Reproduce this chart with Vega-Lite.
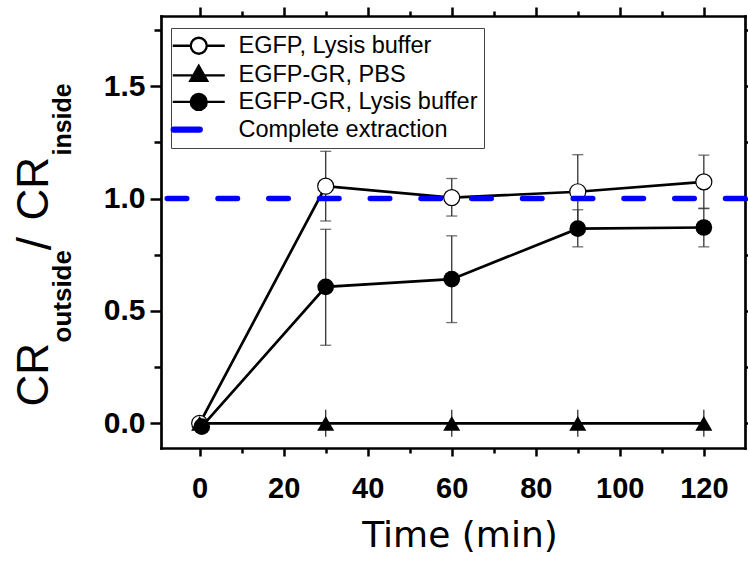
{
  "$schema": "https://vega.github.io/schema/vega-lite/v6.json",
  "autosize": "none",
  "padding": {"left": 161, "top": 16, "right": 3, "bottom": 115},
  "width": 584,
  "height": 432,
  "background": "white",
  "config": {
    "font": "Liberation Sans",
    "view": {"stroke": null},
    "axis": {"grid": false, "tickColor": "black", "domainColor": "black", "labelColor": "black", "titleColor": "black", "tickWidth": 2.5, "domainWidth": 2.7, "domainCap": "square", "labelFlush": false, "labelOverlap": false}
  },
  "datasets": {
    "main": [
      {"series": "EGFP, Lysis buffer", "time": 0, "mean": 0, "lo": 0, "hi": 0},
      {"series": "EGFP, Lysis buffer", "time": 30, "mean": 1.055, "lo": 0.9, "hi": 1.21},
      {"series": "EGFP, Lysis buffer", "time": 60, "mean": 1.004, "lo": 0.922, "hi": 1.089},
      {"series": "EGFP, Lysis buffer", "time": 90, "mean": 1.03, "lo": 0.865, "hi": 1.195},
      {"series": "EGFP, Lysis buffer", "time": 120, "mean": 1.074, "lo": 0.955, "hi": 1.193},
      {"series": "EGFP-GR, PBS", "time": 0, "mean": 0, "lo": 0, "hi": 0},
      {"series": "EGFP-GR, PBS", "time": 30, "mean": 0, "lo": -0.06, "hi": 0.06},
      {"series": "EGFP-GR, PBS", "time": 60, "mean": 0, "lo": -0.06, "hi": 0.06},
      {"series": "EGFP-GR, PBS", "time": 90, "mean": 0, "lo": -0.06, "hi": 0.06},
      {"series": "EGFP-GR, PBS", "time": 120, "mean": 0, "lo": -0.06, "hi": 0.06},
      {"series": "EGFP-GR, Lysis buffer", "time": 0.5, "mean": -0.015, "lo": -0.015, "hi": -0.015},
      {"series": "EGFP-GR, Lysis buffer", "time": 30, "mean": 0.607, "lo": 0.347, "hi": 0.863},
      {"series": "EGFP-GR, Lysis buffer", "time": 60, "mean": 0.641, "lo": 0.448, "hi": 0.834},
      {"series": "EGFP-GR, Lysis buffer", "time": 90, "mean": 0.866, "lo": 0.785, "hi": 0.95},
      {"series": "EGFP-GR, Lysis buffer", "time": 120, "mean": 0.871, "lo": 0.785, "hi": 0.957}
    ],
    "legend": [
      {"series": "EGFP, Lysis buffer"},
      {"series": "EGFP-GR, PBS"},
      {"series": "EGFP-GR, Lysis buffer"},
      {"series": "Complete extraction"}
    ],
    "ref": [
      {"level": 1}
    ]
  },
  "layer": [
    {
      "data": {"name": "main"},
      "mark": {"type": "rule", "color": "#333333", "strokeWidth": 1.3},
      "encoding": {
        "x": {"field": "time", "type": "quantitative", "scale": {"domain": [-9.2, 129.8], "nice": false, "zero": false},
          "axis": {"orient": "bottom", "values": [0, 20, 40, 60, 80, 100, 120], "tickSize": 8, "labelFont": "Liberation Sans", "labelFontWeight": "bold", "labelFontSize": 29, "labelPadding": 18,
            "title": "Time (min)", "titleFont": "DejaVu Sans", "titleFontSize": 36, "titleFontWeight": "normal", "titleX": 298.5, "titleY": 98, "titleBaseline": "alphabetic", "titleAlign": "center", "titleAngle": 0}},
        "y": {"field": "lo", "type": "quantitative", "scale": {"domain": [-0.11, 1.812], "nice": false, "zero": false},
          "axis": {"orient": "left", "values": [0, 0.5, 1, 1.5], "format": ".1f", "tickSize": 11, "labelFont": "Liberation Sans", "labelFontWeight": "bold", "labelFontSize": 30, "labelPadding": 5,
            "title": "CR", "titleFont": "Liberation Sans", "titleFontSize": 44, "titleFontWeight": "normal", "titleAngle": 270, "titleAlign": "left", "titleBaseline": "alphabetic", "titleX": -114, "titleY": 390}},
        "y2": {"field": "hi"}
      }
    },
    {
      "data": {"name": "main"},
      "transform": [{"filter": "datum.series != 'EGFP-GR, PBS'"}],
      "mark": {"type": "tick", "orient": "horizontal", "color": "#333333", "size": 11, "thickness": 1.3},
      "encoding": {
        "x": {"field": "time", "type": "quantitative", "scale": {"domain": [-9.2, 129.8], "nice": false, "zero": false},
          "axis": {"orient": "bottom", "values": [10, 30, 50, 70, 90, 110], "tickSize": 5, "labels": false, "domain": false, "title": null}},
        "y": {"field": "lo", "type": "quantitative", "scale": {"domain": [-0.11, 1.812], "nice": false, "zero": false},
          "axis": {"orient": "left", "values": [0.25, 0.75, 1.25, 1.75], "tickSize": 7, "labels": false, "domain": false,
            "title": "outside", "titleFont": "Liberation Sans", "titleFontSize": 26, "titleFontWeight": "bold", "titleAngle": 270, "titleAlign": "left", "titleBaseline": "alphabetic", "titleX": -91, "titleY": 326}}
      }
    },
    {
      "data": {"name": "main"},
      "transform": [{"filter": "datum.series != 'EGFP-GR, PBS'"}],
      "mark": {"type": "tick", "orient": "horizontal", "color": "#333333", "size": 11, "thickness": 1.3},
      "encoding": {
        "x": {"field": "time", "type": "quantitative", "scale": {"domain": [-9.2, 129.8], "nice": false, "zero": false},
          "axis": {"orient": "top", "values": [0, 20, 40, 60, 80, 100, 120], "tickSize": 9, "labels": false, "title": null}},
        "y": {"field": "hi", "type": "quantitative", "scale": {"domain": [-0.11, 1.812], "nice": false, "zero": false},
          "axis": {"orient": "right", "values": [0, 0.5, 1, 1.5], "tickSize": 8, "labels": false, "title": null}}
      }
    },
    {
      "data": {"name": "main"},
      "mark": {"type": "line", "color": "black", "strokeWidth": 2.7},
      "encoding": {
        "x": {"field": "time", "type": "quantitative", "scale": {"domain": [-9.2, 129.8], "nice": false, "zero": false},
          "axis": {"orient": "top", "values": [10, 30, 50, 70, 90, 110], "tickSize": 5, "labels": false, "domain": false, "title": null}},
        "y": {"field": "mean", "type": "quantitative", "scale": {"domain": [-0.11, 1.812], "nice": false, "zero": false},
          "axis": {"orient": "right", "values": [0.25, 0.75, 1.25, 1.75], "tickSize": 4, "labels": false, "domain": false, "title": null}},
        "detail": {"field": "series", "type": "nominal"},
        "order": {"field": "time", "type": "quantitative"}
      }
    },
    {
      "data": {"name": "main"},
      "transform": [{"filter": "datum.series == 'EGFP, Lysis buffer'"}],
      "mark": {"type": "point", "shape": "circle", "filled": true, "fill": "white", "stroke": "black", "strokeWidth": 1.2, "size": 256, "opacity": 1},
      "encoding": {
        "x": {"field": "time", "type": "quantitative", "scale": {"domain": [-9.2, 129.8], "nice": false, "zero": false}, "axis": null},
        "y": {"field": "mean", "type": "quantitative", "scale": {"domain": [-0.11, 1.812], "nice": false, "zero": false},
          "axis": {"orient": "left", "ticks": false, "labels": false, "domain": false,
            "title": "/", "titleFont": "Liberation Sans", "titleFontSize": 48, "titleFontWeight": "normal", "titleAngle": 270, "titleAlign": "center", "titleBaseline": "alphabetic", "titleX": -111, "titleY": 227}}
      }
    },
    {
      "data": {"name": "main"},
      "transform": [{"filter": "datum.series == 'EGFP-GR, PBS'"}],
      "mark": {"type": "point", "shape": "triangle-up", "filled": true, "color": "black", "size": 290, "opacity": 1},
      "encoding": {
        "x": {"field": "time", "type": "quantitative", "scale": {"domain": [-9.2, 129.8], "nice": false, "zero": false}, "axis": null},
        "y": {"field": "mean", "type": "quantitative", "scale": {"domain": [-0.11, 1.812], "nice": false, "zero": false},
          "axis": {"orient": "left", "ticks": false, "labels": false, "domain": false,
            "title": "CR", "titleFont": "Liberation Sans", "titleFontSize": 44, "titleFontWeight": "normal", "titleAngle": 270, "titleAlign": "left", "titleBaseline": "alphabetic", "titleX": -114, "titleY": 204}}
      }
    },
    {
      "data": {"name": "main"},
      "transform": [{"filter": "datum.series == 'EGFP-GR, Lysis buffer'"}],
      "mark": {"type": "point", "shape": "circle", "filled": true, "color": "black", "size": 280, "opacity": 1},
      "encoding": {
        "x": {"field": "time", "type": "quantitative", "scale": {"domain": [-9.2, 129.8], "nice": false, "zero": false}, "axis": null},
        "y": {"field": "mean", "type": "quantitative", "scale": {"domain": [-0.11, 1.812], "nice": false, "zero": false},
          "axis": {"orient": "left", "ticks": false, "labels": false, "domain": false,
            "title": "inside", "titleFont": "Liberation Sans", "titleFontSize": 25, "titleFontWeight": "bold", "titleAngle": 270, "titleAlign": "left", "titleBaseline": "alphabetic", "titleX": -91, "titleY": 139}}
      }
    },
    {
      "data": {"name": "legend"},
      "transform": [{"filter": "datum.series == 'nothing'"}],
      "mark": {"type": "point", "filled": true, "strokeWidth": 2, "opacity": 1},
      "encoding": {
        "shape": {"field": "series", "type": "nominal",
          "scale": {"domain": ["EGFP, Lysis buffer", "EGFP-GR, PBS", "EGFP-GR, Lysis buffer", "Complete extraction"],
            "range": [
              "M-2.6,0H-0.8M0.8,0H2.6M0.8,0A0.8,0.8,0,1,1,-0.8,0A0.8,0.8,0,1,1,0.8,0Z",
              "M-2.6,0H2.6M0,-0.95L0.85,0.55L-0.85,0.55Z",
              "M-2.6,0H2.6M0.8,0A0.8,0.8,0,1,1,-0.8,0A0.8,0.8,0,1,1,0.8,0Z",
              "M-2.5,-0.2H0.1A0.2,0.2,0,0,1,0.1,0.2H-2.5A0.2,0.2,0,0,1,-2.5,-0.2Z"
            ]},
          "legend": {"title": null, "orient": "none", "legendX": 10, "legendY": 12, "padding": 6, "strokeColor": "#444444", "fillColor": "white",
            "labelFont": "Liberation Sans", "labelFontSize": 23.5, "labelColor": "black", "labelLimit": 400,
            "symbolSize": 400, "symbolStrokeWidth": 2.3, "symbolOffset": 10, "labelOffset": 28, "rowPadding": 1.6}},
        "fill": {"field": "series", "type": "nominal",
          "scale": {"domain": ["EGFP, Lysis buffer", "EGFP-GR, PBS", "EGFP-GR, Lysis buffer", "Complete extraction"], "range": ["white", "black", "black", "#0000ff"]},
          "legend": {"title": null, "orient": "none", "legendX": 10, "legendY": 12, "padding": 6, "strokeColor": "#444444", "fillColor": "white",
            "labelFont": "Liberation Sans", "labelFontSize": 23.5, "labelColor": "black", "labelLimit": 400,
            "symbolSize": 400, "symbolStrokeWidth": 2.3, "symbolOffset": 10, "labelOffset": 28, "rowPadding": 1.6}},
        "stroke": {"field": "series", "type": "nominal",
          "scale": {"domain": ["EGFP, Lysis buffer", "EGFP-GR, PBS", "EGFP-GR, Lysis buffer", "Complete extraction"], "range": ["black", "black", "black", "#0000ff"]},
          "legend": {"title": null, "orient": "none", "legendX": 10, "legendY": 12, "padding": 6, "strokeColor": "#444444", "fillColor": "white",
            "labelFont": "Liberation Sans", "labelFontSize": 23.5, "labelColor": "black", "labelLimit": 400,
            "symbolSize": 400, "symbolStrokeWidth": 2.3, "symbolOffset": 10, "labelOffset": 28, "rowPadding": 1.6}}
      }
    },
    {
      "data": {"name": "ref"},
      "mark": {"type": "rule", "color": "#0000ff", "strokeWidth": 5.5, "strokeDash": [19.5, 31.25], "strokeCap": "round"},
      "encoding": {
        "y": {"field": "level", "type": "quantitative", "scale": {"domain": [-0.11, 1.812], "nice": false, "zero": false}, "axis": null}
      }
    }
  ],
  "resolve": {"axis": {"x": "independent", "y": "independent"}}
}
